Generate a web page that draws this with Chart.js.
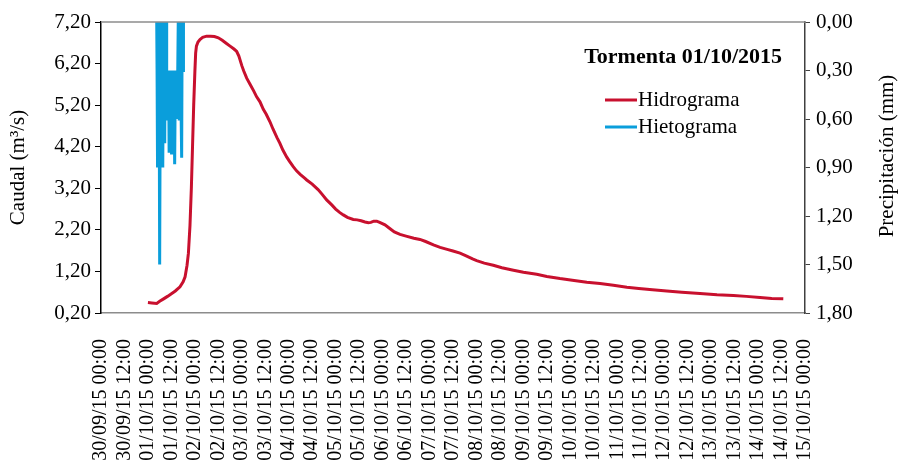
<!DOCTYPE html>
<html><head><meta charset="utf-8">
<script src="https://cdn.jsdelivr.net/npm/chart.js@4.4.0/dist/chart.umd.min.js"></script>
<style>html,body{margin:0;padding:0;background:#fff}#wrap{width:902px;height:464px;position:relative}</style>
</head><body><div id="wrap"><canvas id="c" width="902" height="464"></canvas></div>
<script>
// ---- DATA ----
const xTickLabels = [
  '30/09/15 00:00','30/09/15 12:00','01/10/15 00:00','01/10/15 12:00','02/10/15 00:00','02/10/15 12:00',
  '03/10/15 00:00','03/10/15 12:00','04/10/15 00:00','04/10/15 12:00','05/10/15 00:00','05/10/15 12:00',
  '06/10/15 00:00','06/10/15 12:00','07/10/15 00:00','07/10/15 12:00','08/10/15 00:00','08/10/15 12:00',
  '09/10/15 00:00','09/10/15 12:00','10/10/15 00:00','10/10/15 12:00','11/10/15 00:00','11/10/15 12:00',
  '12/10/15 00:00','12/10/15 12:00','13/10/15 00:00','13/10/15 12:00','14/10/15 00:00','14/10/15 12:00',
  '15/10/15 00:00'
];
const xTickHours = [0,12,24,36,48,60,72,84,96,108,120,132,144,156,168,180,192,204,216,228,240,252,264,276,288,300,312,324,336,348,360];
const caudalTicks = [0.2,1.2,2.2,3.2,4.2,5.2,6.2,7.2];
const precipTicks = [0,0.3,0.6,0.9,1.2,1.5,1.8];

// hours since 30/09/15 00:00
const hidroHours = [24,26,28.5,30,32,34,36.2,38,40.4,42,43,44,44.7,45.5,46.2,46.8,47.4,48,48.4,48.8,49.6,50.6,52,54,56,58,60,62,64,66,68,69.4,70.5,71.1,72,73,74.5,76,78,79.6,81.3,83,84.5,86.4,88,90,91.5,93,95,96.5,98.3,100,102,104,105.2,108,111,113,115.4,118,120,122,123.9,126,129,131,133,135,136.7,138,139.5,141,142.5,145.2,148,150,152.9,156,160,163.1,166,170,173.4,177,180,183.6,187,190,192.1,196,200.6,205,210.9,216,222.8,228,234.7,241,248.4,255.2,262,268.9,275,282,289.3,297,306.3,315,323.4,330,337,343,348.9];
const hidroCaudal = [0.45,0.44,0.43,0.48,0.54,0.60,0.67,0.73,0.83,0.95,1.07,1.35,1.64,2.3,3.2,4.2,5.2,6.0,6.45,6.62,6.72,6.78,6.83,6.86,6.86,6.85,6.82,6.76,6.69,6.62,6.55,6.49,6.38,6.29,6.15,6.02,5.85,5.72,5.55,5.40,5.28,5.10,4.98,4.80,4.62,4.42,4.28,4.12,3.95,3.84,3.72,3.62,3.53,3.45,3.40,3.30,3.17,3.06,2.92,2.80,2.70,2.62,2.56,2.50,2.45,2.44,2.42,2.39,2.37,2.38,2.41,2.41,2.38,2.32,2.22,2.15,2.09,2.05,2.00,1.97,1.92,1.84,1.78,1.73,1.69,1.64,1.57,1.50,1.46,1.40,1.35,1.29,1.23,1.18,1.13,1.08,1.03,0.99,0.94,0.91,0.87,0.82,0.79,0.76,0.73,0.70,0.67,0.64,0.62,0.60,0.57,0.55,0.54];

const hietoHours = [28.50,28.67,28.83,29.00,29.17,29.33,29.50,29.67,29.83,30.00,30.17,30.33,30.50,30.67,30.83,31.00,31.17,31.33,31.50,31.67,31.83,32.00,32.17,32.33,32.50,32.67,32.83,33.00,33.17,33.33,33.50,33.67,33.83,34.00,34.17,34.33,34.50,34.67,34.83,35.00,35.17,35.33,35.50,35.67,35.83,36.00,36.17,36.33,36.50,36.67,36.83,37.00,37.17,37.33,37.50,37.67,37.83,38.00,38.17,38.33,38.50,38.67,38.83,39.00,39.17,39.33,39.50,39.67,39.83,40.00,40.17,40.33,40.50,40.67,40.83,41.00,41.17,41.33,41.50,41.67,41.83,42.00,42.17];
const hietoMm    = [0,0.3,0,0.9,0,0.6,0.9,0,0.3,0.6,1.5,0.3,0,0.9,0,0.3,0,0.6,0,0.9,0.3,0,0.6,0,0.3,0.75,0,0.3,0,0.6,0,0.3,0.6,0.3,0.5,0.3,0.6,0.3,0.8,0.3,0.6,0.3,0.5,0.3,0.6,0.3,0.82,0.3,0.6,0.3,0.5,0.3,0.6,0.35,0.6,0.3,0.88,0.35,0.6,0.3,0.5,0.3,0.6,0.35,0.6,0.3,0,0.3,0,0.6,0,0.3,0,0.3,0,0.6,0,0.84,0,0.3,0,0.3,0];

const chartTitle = 'Tormenta 01/10/2015';
const seriesNames = ['Hidrograma','Hietograma'];
const leftTitle = 'Caudal (m³/s)';
const rightTitle = 'Precipitación (mm)';

// ---- CHART ----
const FONT = '"Liberation Serif", "Times New Roman", serif';
Chart.defaults.font.family = FONT;
Chart.defaults.color = '#000';
const fmt = (v, d) => Number(v).toFixed(d).replace('.', ',');

const overlay = {
  id: 'overlay',
  afterDraw(chart) {
    const ctx = chart.ctx, a = chart.chartArea;
    ctx.save();
    // top border
    ctx.strokeStyle = '#8c8c8c'; ctx.lineWidth = 1.5;
    ctx.beginPath(); ctx.moveTo(a.left, a.top); ctx.lineTo(a.right, a.top); ctx.stroke();
    // right axis title (reads bottom to top)
    ctx.fillStyle = '#000';
    ctx.font = '21px ' + FONT;
    ctx.translate(887, 156); ctx.rotate(-Math.PI / 2);
    ctx.textAlign = 'center'; ctx.textBaseline = 'middle';
    ctx.fillText(rightTitle, 0, 0);
    ctx.restore();
    // title + legend
    ctx.save();
    ctx.fillStyle = '#000';
    ctx.font = 'bold 22px ' + FONT;
    ctx.textAlign = 'right'; ctx.textBaseline = 'middle';
    ctx.fillText(chartTitle, 782, 57);
    ctx.font = '21px ' + FONT;
    ctx.textAlign = 'left';
    chart.data.datasets.forEach((ds, i) => {
      const y = 100 + i * 27;
      ctx.strokeStyle = ds.borderColor; ctx.lineWidth = 3;
      ctx.beginPath(); ctx.moveTo(605, y); ctx.lineTo(637, y); ctx.stroke();
      ctx.fillText(ds.label, 638, y);
    });
    ctx.restore();
  }
};

new Chart(document.getElementById('c'), {
  type: 'line',
  data: {
    datasets: [
      { label: seriesNames[0], data: hidroHours.map((h, i) => ({x: h, y: hidroCaudal[i]})),
        borderColor: '#C8102E', borderWidth: 3, pointRadius: 0, tension: 0, yAxisID: 'y' },
      { label: seriesNames[1], data: hietoHours.map((h, i) => ({x: h, y: hietoMm[i]})),
        borderColor: '#0A9EDB', borderWidth: 3, pointRadius: 0, tension: 0, yAxisID: 'y1' }
    ]
  },
  options: {
    responsive: false, animation: false, devicePixelRatio: 1,
    layout: { padding: { top: 22, left: 0, right: 0, bottom: 0 } },
    plugins: { legend: { display: false }, tooltip: { enabled: false } },
    scales: {
      x: {
        type: 'linear', min: 0, max: 360,
        afterBuildTicks: s => { s.ticks = xTickHours.map(v => ({ value: v })); },
        afterFit: s => { s.height = 151; },
        ticks: { autoSkip: false, minRotation: 90, maxRotation: 90, padding: 26,
                 font: { size: 20 }, color: '#000',
                 callback: (v, i) => xTickLabels[i] },
        grid: { display: false, drawTicks: false },
        border: { display: true, color: '#8c8c8c', width: 1.5 }
      },
      y: {
        position: 'left', min: 0.2, max: 7.2,
        afterBuildTicks: s => { s.ticks = caudalTicks.map(v => ({ value: v })); },
        afterFit: s => { s.width = 101; },
        ticks: { font: { size: 21 }, color: '#000', padding: 4, callback: v => fmt(v, 2) },
        grid: { drawOnChartArea: false, tickLength: 6, color: '#000' },
        border: { color: '#000', width: 1.5 },
        title: { display: true, text: leftTitle, font: { size: 21 }, padding: { top: 6, bottom: 0 } }
      },
      y1: {
        position: 'right', reverse: true, min: 0, max: 1.8,
        afterBuildTicks: s => { s.ticks = precipTicks.map(v => ({ value: v })); },
        afterFit: s => { s.width = 97; },
        ticks: { font: { size: 21 }, color: '#000', padding: 6, callback: v => fmt(v, 2) },
        grid: { drawOnChartArea: false, tickLength: 5, color: '#404040' },
        border: { color: '#404040', width: 1.5 }
      }
    }
  },
  plugins: [overlay]
});
</script></body></html>
